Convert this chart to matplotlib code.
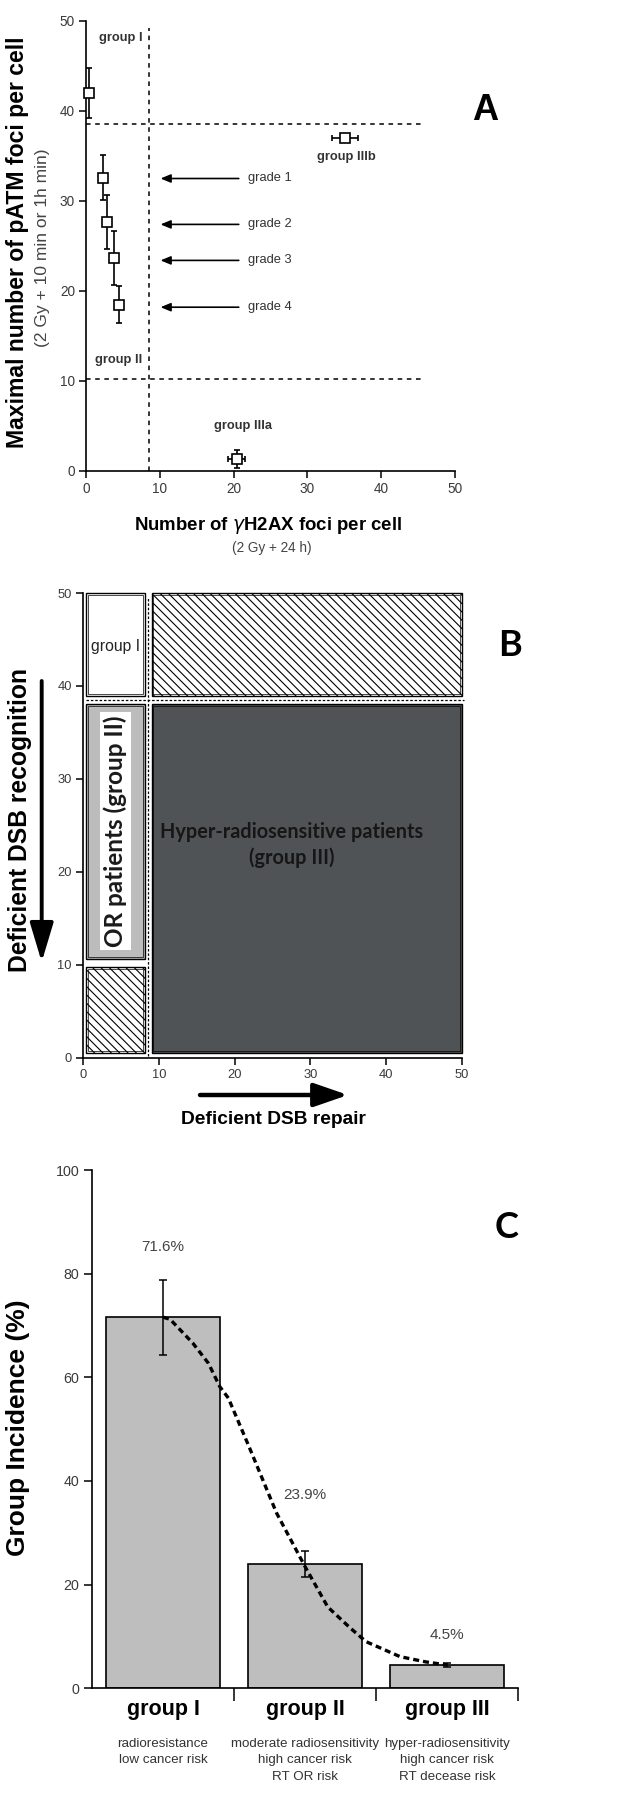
import numpy as np
import matplotlib
matplotlib.use("Agg")
import matplotlib.pyplot as plt
from matplotlib.patches import Rectangle, FancyArrowPatch

# ---------------- data ----------------
# panel A: max pATM foci vs residual gH2AX foci
a_names = ['group I', 'grade 1', 'grade 2', 'grade 3', 'grade 4', 'group IIIb', 'group IIIa']
a_x = [0.4, 2.35, 2.8, 3.8, 4.5, 35.1, 20.4]
a_y = [42.0, 32.6, 27.7, 23.7, 18.5, 37.0, 1.3]
a_xerr = [0.0, 0.0, 0.0, 0.0, 0.0, 1.7, 1.1]
a_yerr = [2.8, 2.5, 3.0, 3.0, 2.1, 0.0, 1.0]
a_xcut = 8.6
a_ycut_hi = 38.6
a_ycut_lo = 10.2
grade_names = ['grade 1', 'grade 2', 'grade 3', 'grade 4']
grade_y = [32.5, 27.4, 23.4, 18.2]
ticks_050 = [0, 10, 20, 30, 40, 50]

# panel B: classification map
b_xcut = 8.6
b_ycut_hi = 38.5
b_ycut_lo = 10.2
b_max = 50

# panel C: group incidence
c_groups = ['group I', 'group II', 'group III']
c_desc = ['radioresistance\nlow cancer risk',
          'moderate radiosensitivity\nhigh cancer risk\nRT OR risk',
          'hyper-radiosensitivity\nhigh cancer risk\nRT decease risk']
c_values = [71.6, 23.9, 4.5]
c_err = [7.2, 2.5, 0.4]
c_pct = ['71.6%', '23.9%', '4.5%']
c_pct_y = [85.2, 37.2, 10.2]
curve_x = [0.0, 0.05, 0.21, 0.32, 0.40, 0.46, 0.60, 0.80, 1.0, 1.16, 1.32, 1.43, 1.67, 1.85, 2.0]
curve_y = [71.6, 71.2, 66.6, 62.7, 58.2, 56.0, 47.0, 33.8, 23.5, 15.7, 11.6, 9.0, 6.1, 5.1, 4.5]

W, H = 638, 1800
ARIAL = ['Liberation Sans', 'DejaVu Sans']
CALI = ['Lato', 'DejaVu Sans']
TICK_C = '#3a3a3a'

plt.rcParams['font.family'] = ARIAL
plt.rcParams['hatch.linewidth'] = 0.8

fig = plt.figure(figsize=(W / 100, H / 100), dpi=100)
fig.patch.set_facecolor('white')


def px_axes(x0, y0, x1, y1):
    # pixel box (top-left origin) -> figure axes
    return fig.add_axes([x0 / W, 1 - y1 / H, (x1 - x0) / W, (y1 - y0) / H])


def fx(px):
    return px / W


def fy(py):
    return 1 - py / H


def style_axes(ax, size):
    for s in ['top', 'right']:
        ax.spines[s].set_visible(False)
    for s in ['left', 'bottom']:
        ax.spines[s].set_linewidth(1.2)
    ax.tick_params(direction='out', length=5, width=1.1, labelsize=size,
                   labelcolor=TICK_C, pad=3)


def fig_arrow(p0, p1, lw, hl, hw, scale):
    arr = FancyArrowPatch((fx(p0[0]), fy(p0[1])), (fx(p1[0]), fy(p1[1])),
                          transform=fig.transFigure,
                          arrowstyle='-|>,head_length=%g,head_width=%g' % (hl, hw),
                          mutation_scale=scale, lw=lw, color='black',
                          shrinkA=0, shrinkB=0)
    fig.add_artist(arr)


# ---------------- panel A ----------------
axA = px_axes(86, 21, 455, 471)
axA.set_xlim(0, 50)
axA.set_ylim(0, 50)
axA.set_xticks(ticks_050)
axA.set_yticks(ticks_050)
style_axes(axA, 9.8)

axA.errorbar(a_x, a_y, xerr=a_xerr, yerr=a_yerr, fmt='s', ms=7.5, mfc='white',
             mec='black', mew=1.2, ecolor='black', elinewidth=1.2, capsize=2.5,
             capthick=1.2, zorder=3, clip_on=False)

axA.plot([a_xcut, a_xcut], [0, 49.2], color='black', lw=1.1, dashes=(3, 3))
axA.plot([0, 46], [a_ycut_hi, a_ycut_hi], color='black', lw=1.1, dashes=(3, 3))
axA.plot([0, 46], [a_ycut_lo, a_ycut_lo], color='black', lw=1.1, dashes=(3, 3))

for name, yy in zip(grade_names, grade_y):
    axA.annotate('', xy=(10.1, yy), xytext=(20.7, yy),
                 arrowprops=dict(arrowstyle='-|>,head_length=0.6,head_width=0.25',
                                 mutation_scale=10, lw=1.2, color='black',
                                 shrinkA=0, shrinkB=0))
    axA.text(22.0, yy, name, fontsize=9.3, color='#333333', ha='left', va='center')

lab_kw = dict(fontsize=9.3, color='#333333', fontweight='bold', ha='center', va='center')
axA.text(4.7, 48.1, 'group I', **lab_kw)
axA.text(4.4, 12.3, 'group II', **lab_kw)
axA.text(35.3, 34.9, 'group IIIb', **lab_kw)
axA.text(21.3, 5.0, 'group IIIa', **lab_kw)

fig.text(fx(18), fy(242), 'Maximal number of pATM foci per cell', rotation=90,
         fontsize=16.6, fontweight='bold', ha='center', va='center')
fig.text(fx(43), fy(248), '(2 Gy + 10 min or 1h min)', rotation=90,
         fontsize=12.5, color='#444444', ha='center', va='center')
fig.text(fx(268), fy(525), r'Number of $\gamma$H2AX foci per cell', fontsize=13.4,
         fontweight='bold', ha='center', va='center')
fig.text(fx(272), fy(548), '(2 Gy + 24 h)', fontsize=9.8,
         color='#444444', ha='center', va='center')
fig.text(fx(485), fy(110), 'A', fontsize=26, fontweight='bold',
         ha='center', va='center')

# ---------------- panel B ----------------
axB = px_axes(83, 593, 462, 1057.5)
axB.set_xlim(0, 50)
axB.set_ylim(0, 50)
axB.set_xticks(ticks_050)
axB.set_yticks(ticks_050)
style_axes(axB, 9.3)

pad = 0.45
regions = [
    # (x0, x1, y0, y1, face, hatch)
    (0, b_xcut, b_ycut_hi, b_max, 'white', None),
    (b_xcut, b_max, b_ycut_hi, b_max, 'white', '\\\\\\\\'),
    (0, b_xcut, b_ycut_lo, b_ycut_hi, '#bcbcbc', None),
    (0, b_xcut, 0, b_ycut_lo, 'white', '\\\\\\\\'),
    (b_xcut, b_max, 0, b_ycut_hi, '#505355', None),
]
for x0, x1, y0, y1, fc, hatch in regions:
    x0p, y0p = x0 + pad, y0 + pad
    x1p, y1p = x1 - pad * (x1 < b_max), y1 - pad * (y1 < b_max)
    r = Rectangle((x0p, y0p), x1p - x0p, y1p - y0p, fc=fc, ec='black', lw=1.0,
                  hatch=hatch, clip_on=False, zorder=2)
    axB.add_patch(r)
    ins = 0.22
    r2 = Rectangle((x0p + ins, y0p + ins), x1p - x0p - 2 * ins, y1p - y0p - 2 * ins,
                   fc='none', ec='black', lw=0.5, clip_on=False, zorder=2)
    axB.add_patch(r2)

axB.plot([pad, 50.3], [b_ycut_hi, b_ycut_hi], color='black', lw=0.9, dashes=(2, 1.5),
         zorder=3, clip_on=False)
axB.plot([b_xcut, b_xcut], [0.2, b_max - pad], color='black', lw=0.9, dashes=(2, 1.5),
         zorder=3, clip_on=False)

axB.text(b_xcut / 2, 44.2, 'group I', fontsize=11.3, color='#222222',
         ha='center', va='center', zorder=4)
axB.text(b_xcut / 2, (b_ycut_lo + b_ycut_hi) / 2, 'OR patients (group II)',
         rotation=90, fontsize=17.5, fontweight='bold', family=CALI, color='#1a1a1a',
         ha='center', va='center', zorder=4,
         bbox=dict(fc='white', ec='none', pad=2.5))
axB.text((b_xcut + b_max) / 2 - 1.8, 22.9, 'Hyper-radiosensitive patients\n(group III)',
         fontsize=14.3, fontweight='bold', family=CALI, color='#161616',
         ha='center', va='center', linespacing=1.35, zorder=4)

fig.text(fx(20), fy(820), 'Deficient DSB recognition', rotation=90, fontsize=17.7,
         fontweight='bold', ha='center', va='center')
fig_arrow((41.7, 681), (41.7, 962), 2.8, 1.5, 0.45, 16)
fig.text(fx(273), fy(1120), 'Deficient DSB repair', fontsize=13.8, fontweight='bold',
         ha='center', va='center')
fig_arrow((200, 1095), (348, 1095), 3.2, 1.3, 0.45, 16)
fig.text(fx(510), fy(645), 'B', fontsize=26, fontweight='bold', family=CALI,
         ha='center', va='center')

# ---------------- panel C ----------------
axC = px_axes(92, 1170, 518, 1688.3)
axC.set_xlim(-0.5, 2.5)
axC.set_ylim(0, 100)
axC.set_yticks([0, 20, 40, 60, 80, 100])
xpos = np.arange(len(c_groups))
axC.set_xticks(xpos + 0.5)
axC.set_xticklabels([])
style_axes(axC, 10.3)
axC.tick_params(axis='x', length=9)
axC.tick_params(axis='y', length=6)

axC.bar(xpos, c_values, width=0.8, color='#bebebe', edgecolor='black', lw=1.2, zorder=2)
axC.errorbar(xpos, c_values, yerr=c_err, fmt='none', ecolor='black', elinewidth=1.1,
             capsize=3, capthick=1.1, zorder=3)
axC.plot(curve_x, curve_y, color='black', lw=2.4, dashes=(1.8, 1.2), zorder=4)

for x, y, t in zip(xpos, c_pct_y, c_pct):
    axC.text(x, y, t, fontsize=11, color='#444444', ha='center', va='center')
for x, g, d in zip(xpos, c_groups, c_desc):
    px = 92 + (x + 0.5) * (518 - 92) / 3
    fig.text(fx(px), fy(1710), g, fontsize=15.5, fontweight='bold',
             ha='center', va='center')
    fig.text(fx(px), fy(1738), d, fontsize=9.6, color='#333333', ha='center',
             va='top', linespacing=1.48)

fig.text(fx(18), fy(1428), 'Group Incidence (%)', rotation=90, fontsize=19,
         fontweight='bold', ha='center', va='center')
fig.text(fx(507), fy(1227), 'C', fontsize=26, fontweight='bold', family=CALI,
         ha='center', va='center')

fig.savefig('out.png', dpi=100, facecolor='white')
